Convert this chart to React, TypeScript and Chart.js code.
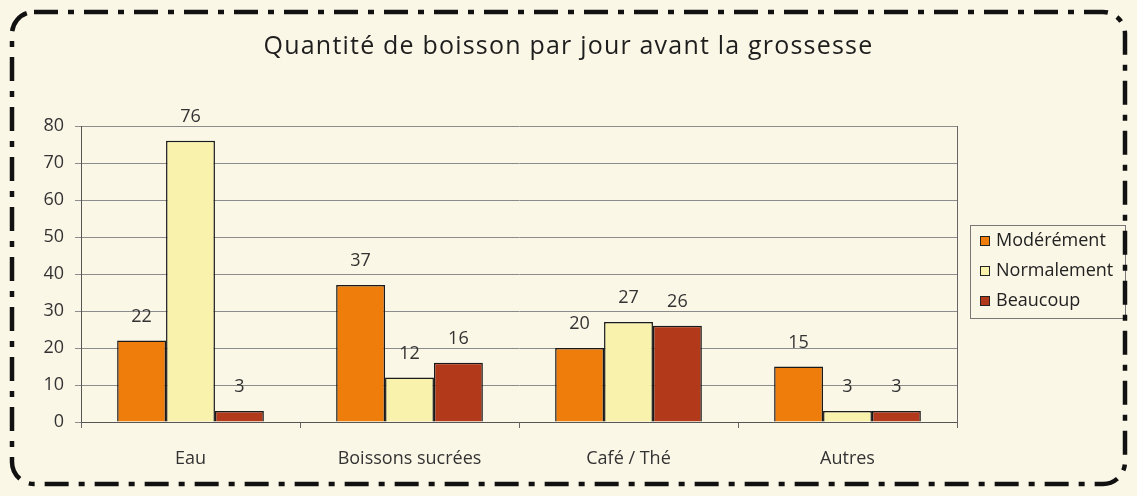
import React, { useEffect, useRef } from "react";
import { Chart, registerables } from "chart.js";

Chart.register(...registerables);

const TITLE = "Quantité de boisson par jour avant la grossesse";
const categories = ["Eau", "Boissons sucrées", "Café / Thé", "Autres"];
const seriesNames = ["Modérément", "Normalement", "Beaucoup"];
const moderement = [22, 37, 20, 15];
const normalement = [76, 12, 27, 3];
const beaucoup = [3, 16, 26, 3];
const yTicks = [0, 10, 20, 30, 40, 50, 60, 70, 80];
const colors = ["#EE7D0C", "#F9F2AC", "#B3391B"];

const FONT = "'Open Sans', 'Noto Sans', sans-serif";

export default function App() {
  const ref = useRef<HTMLCanvasElement>(null);

  useEffect(() => {
    document.body.style.margin = "0";
    const canvas = ref.current!;
    const bgPlugin = {
      id: "bg",
      beforeDraw(chart: any) {
        const ctx = chart.ctx;
        ctx.save();
        ctx.fillStyle = "#FBF7E7";
        ctx.fillRect(0, 0, chart.width, chart.height);
        ctx.restore();
      },
    };
    const labelPlugin = {
      id: "labels",
      afterDatasetsDraw(chart: any) {
        const ctx = chart.ctx;
        ctx.save();
        ctx.font = `18px ${FONT}`;
        ctx.fillStyle = "#333";
        ctx.textAlign = "center";
        ctx.textBaseline = "middle";
        chart.data.datasets.forEach((ds: any, i: number) => {
          const meta = chart.getDatasetMeta(i);
          meta.data.forEach((el: any, j: number) => {
            ctx.fillText(String(ds.data[j]), el.x, el.y - 24);
          });
        });
        ctx.restore();
      },
    };
    const decoPlugin = {
      id: "deco",
      afterDraw(chart: any) {
        const ctx = chart.ctx;
        const a = chart.chartArea;
        ctx.save();
        // title centred on the whole canvas
        ctx.font = `25px ${FONT}`;
        (ctx as any).letterSpacing = "1.2px";
        ctx.fillStyle = "#1e1e1e";
        ctx.textAlign = "center";
        ctx.textBaseline = "middle";
        ctx.fillText(TITLE, chart.width / 2, 47);
        (ctx as any).letterSpacing = "0px";

        // right frame line of plot area
        ctx.strokeStyle = "#666";
        ctx.lineWidth = 1;
        ctx.beginPath();
        ctx.moveTo(Math.round(a.right) + 0.5, a.top);
        ctx.lineTo(Math.round(a.right) + 0.5, a.bottom + 6);
        ctx.stroke();

        // legend
        const lx = a.right + 13;
        const ly = a.top + 99;
        const lw = 155;
        const lh = 93;
        ctx.strokeStyle = "#777";
        ctx.strokeRect(lx + 0.5, ly + 0.5, lw, lh);
        ctx.font = `18px ${FONT}`;
        ctx.textBaseline = "middle";
        ctx.textAlign = "left";
        seriesNames.forEach((name, i) => {
          const cy = ly + 16 + i * 30;
          ctx.fillStyle = colors[i];
          ctx.fillRect(lx + 10, cy - 5, 10, 10);
          ctx.strokeStyle = "#222";
          ctx.strokeRect(lx + 10.5, cy - 4.5, 9, 9);
          ctx.fillStyle = "#222";
          ctx.fillText(name, lx + 26, cy);
        });

        // dash-dot outer border
        ctx.strokeStyle = "#111";
        ctx.lineWidth = 4.5;
        ctx.setLineDash([24, 10, 6, 10]);
        const bx = 12, by = 12, bw = chart.width - 24, bh = chart.height - 24, r = 22;
        ctx.beginPath();
        ctx.moveTo(bx + r, by);
        ctx.lineTo(bx + bw - r, by);
        ctx.arcTo(bx + bw, by, bx + bw, by + r, r);
        ctx.lineTo(bx + bw, by + bh - r);
        ctx.arcTo(bx + bw, by + bh, bx + bw - r, by + bh, r);
        ctx.lineTo(bx + r, by + bh);
        ctx.arcTo(bx, by + bh, bx, by + bh - r, r);
        ctx.lineTo(bx, by + r);
        ctx.arcTo(bx, by, bx + r, by, r);
        ctx.stroke();
        ctx.restore();
      },
    };

    const chart = new Chart(canvas, {
      type: "bar",
      data: {
        labels: categories,
        datasets: [moderement, normalement, beaucoup].map((d, i) => ({
          label: seriesNames[i],
          data: d,
          backgroundColor: colors[i],
          borderColor: "#1a1a1a",
          borderWidth: 1.5,
          categoryPercentage: 0.67,
          barPercentage: 1,
        })),
      },
      options: {
        animation: false,
        responsive: false,
        layout: { padding: { left: 0, right: 180, top: 126, bottom: 0 } },
        plugins: {
          legend: { display: false },
          tooltip: { enabled: false },
          title: { display: false },
        },
        scales: {
          x: {
            afterFit(scale: any) {
              scale.height = 74;
            },
            grid: {
              display: true,
              drawOnChartArea: false,
              drawTicks: true,
              tickLength: 6,
              color: "#666",
              offset: true,
            },
            border: { display: true, color: "#555", width: 1 },
            ticks: {
              color: "#333",
              font: { family: FONT, size: 18 },
              padding: 20,
              maxRotation: 0,
            },
          },
          y: {
            min: 0,
            max: 80,
            afterFit(scale: any) {
              scale.width = 81;
            },
            afterBuildTicks(scale: any) {
              scale.ticks = yTicks.map((v) => ({ value: v }));
            },
            grid: {
              color: "#8c8c8c",
              lineWidth: 1,
              drawTicks: true,
              tickLength: 6,
            },
            border: { display: true, color: "#555", width: 1 },
            ticks: {
              color: "#333",
              font: { family: FONT, size: 18 },
              padding: 11,
            },
          },
        },
      },
      plugins: [bgPlugin, labelPlugin, decoPlugin],
    } as any);
    return () => chart.destroy();
  }, []);

  return (
    <div style={{ width: 1137, height: 496 }}>
      <canvas ref={ref} width={1137} height={496} />
    </div>
  );
}
